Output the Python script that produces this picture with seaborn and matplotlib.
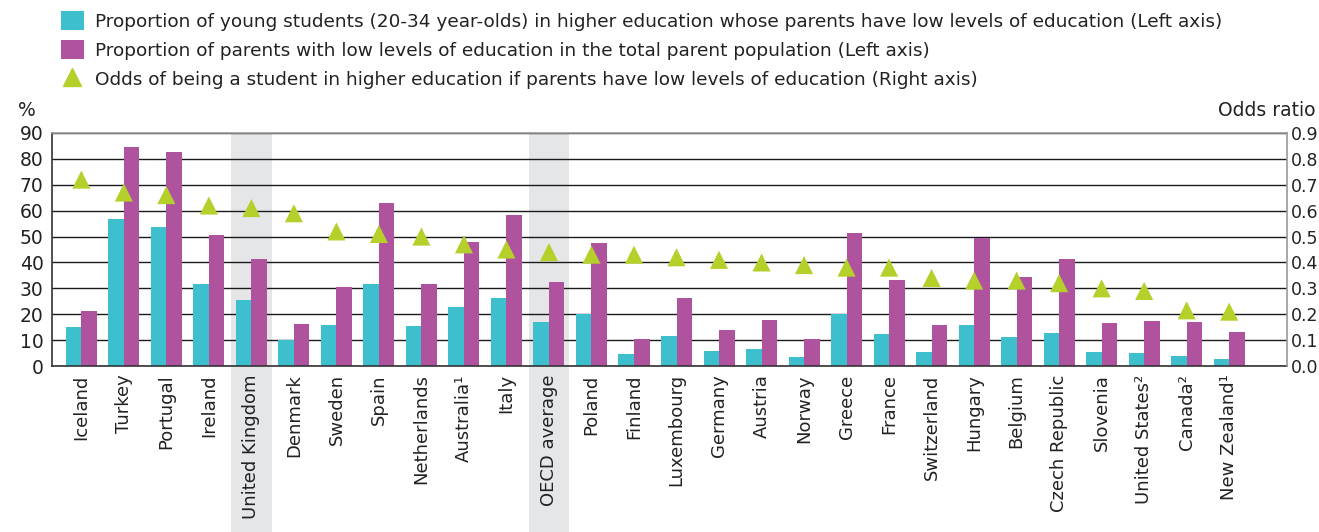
import numpy as np
import pandas as pd
import seaborn as sns
import matplotlib.pyplot as plt
from matplotlib.patches import Patch
from matplotlib.lines import Line2D

# Data
countries = ['Iceland', 'Turkey', 'Portugal', 'Ireland', 'United Kingdom', 'Denmark', 'Sweden',
             'Spain', 'Netherlands', 'Australia¹', 'Italy', 'OECD average', 'Poland', 'Finland',
             'Luxembourg', 'Germany', 'Austria', 'Norway', 'Greece', 'France', 'Switzerland',
             'Hungary', 'Belgium', 'Czech Republic', 'Slovenia', 'United States²', 'Canada²',
             'New Zealand¹']
students_low_edu = [15.1, 56.8, 53.7, 31.7, 25.5, 10.2, 15.9, 31.7, 15.5, 22.8, 26.3, 17.0, 20.1, 4.6,
                    11.6, 5.8, 6.6, 3.5, 20.1, 12.4, 5.4, 15.9, 11.2, 12.8, 5.4, 5.0, 3.9, 2.7]
parents_low_edu = [21.3, 84.7, 82.7, 50.6, 41.4, 16.2, 30.5, 63.0, 31.7, 47.9, 58.4, 32.5, 47.6, 10.4,
                   26.3, 13.9, 17.8, 10.4, 51.4, 33.2, 15.9, 49.5, 34.4, 41.4, 16.6, 17.4, 17.0, 13.1]
odds_ratio = [0.72, 0.67, 0.66, 0.62, 0.61, 0.59, 0.52, 0.51, 0.50, 0.47, 0.45, 0.44, 0.43, 0.43,
              0.42, 0.41, 0.40, 0.39, 0.38, 0.38, 0.34, 0.33, 0.33, 0.32, 0.30, 0.29, 0.215, 0.21]
highlighted = ['United Kingdom', 'OECD average']

series_names = ['Proportion of young students (20-34 year-olds) in higher education whose parents have low levels of education (Left axis)',
                'Proportion of parents with low levels of education in the total parent population (Left axis)']
odds_name = 'Odds of being a student in higher education if parents have low levels of education (Right axis)'

teal = '#3dbfcd'
purple = '#b0539f'
green = '#b5cf2b'
band = '#e5e6e8'

sns.set_style("white")
plt.rcParams['font.family'] = ['DejaVu Sans']

df = pd.DataFrame({
    'country': countries * 2,
    'series': [series_names[0]] * len(countries) + [series_names[1]] * len(countries),
    'value': students_low_edu + parents_low_edu,
})

fig = plt.figure(figsize=(13.19, 5.32), dpi=100)
ax = fig.add_axes([52 / 1319, 1 - 366 / 532, (1287 - 52) / 1319, (366 - 133) / 532])

sns.barplot(data=df, x='country', y='value', hue='series', order=countries,
            hue_order=series_names, palette=[teal, purple], width=0.73,
            saturation=1, linewidth=0, ax=ax, legend=False)

n = len(countries)
ax.set_xlim(-0.69, n - 1 + 1.36)
ax.set_ylim(0, 90)
ax.set_yticks(range(0, 91, 10))
ax.set_axisbelow(True)
ax.yaxis.grid(True, color='#1a1a1a', linewidth=1.0)
ax.set_xlabel('')
ax.set_ylabel('')

# grey bands behind highlighted categories, running down through the labels
for name in highlighted:
    i = countries.index(name)
    ax.axvspan(i - 0.48, i + 0.48, ymin=-0.72, ymax=1, color=band, zorder=0,
               clip_on=False, linewidth=0)

ax.set_xticks(range(n))
ax.set_xticklabels(countries, rotation=90, fontsize=13, color='#222222')
ax.tick_params(axis='x', length=0, pad=6)
ax.tick_params(axis='y', length=0, pad=6, labelsize=13.5, labelcolor='#222222')

for side in ['left', 'bottom']:
    ax.spines[side].set_color('#333333')
    ax.spines[side].set_linewidth(1.2)
ax.spines['top'].set_color('#999999')
ax.spines['top'].set_linewidth(1.2)
ax.spines['right'].set_visible(False)

ax2 = ax.twinx()
sns.scatterplot(x=np.arange(n), y=odds_ratio, marker='^', s=170, color=green,
                edgecolor='none', ax=ax2, zorder=5)
ax2.set_ylim(0, 0.9)
ax2.set_yticks(np.arange(0, 0.91, 0.1))
ax2.set_yticklabels([f'{v:.1f}' for v in np.arange(0, 0.91, 0.1)])
ax2.tick_params(axis='y', length=0, pad=3, labelsize=12.5, labelcolor='#222222')
ax2.spines['right'].set_color('#999999')
ax2.spines['right'].set_linewidth(1.2)
for side in ['left', 'top', 'bottom']:
    ax2.spines[side].set_visible(False)
ax2.set_xlim(ax.get_xlim())

fig.text(27 / 1319, 1 - 110 / 532, '%', fontsize=13.5, color='#222222', ha='center', va='center')
fig.text(1315 / 1319, 1 - 110 / 532, 'Odds ratio', fontsize=13.5, color='#222222', ha='right', va='center')

handles = [Patch(facecolor=teal, edgecolor='none'),
           Patch(facecolor=purple, edgecolor='none'),
           Line2D([], [], marker='^', linestyle='none', color=green, markersize=13)]
fig.legend(handles, series_names + [odds_name], loc='upper left',
           bbox_to_anchor=(54 / 1319, 1 - 4 / 532), frameon=False, fontsize=13.3,
           handlelength=1.2, handleheight=1.2, labelspacing=0.5, handletextpad=0.6,
           borderaxespad=0, labelcolor='#222222')

fig.savefig('out.png', dpi=100)
